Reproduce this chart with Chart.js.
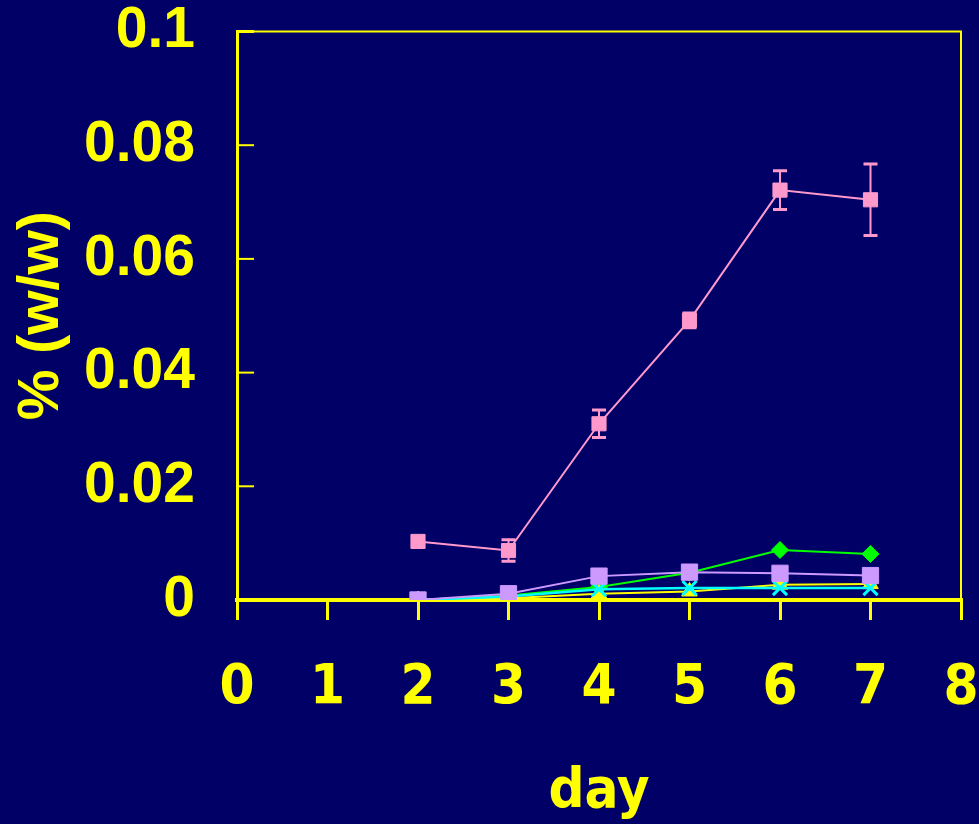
<!DOCTYPE html>
<html>
<head>
<meta charset="utf-8">
<script src="https://cdn.jsdelivr.net/npm/chart.js@4.4.1/dist/chart.umd.min.js"></script>
<style>
  html, body { margin: 0; padding: 0; background: #000066; }
  #wrap { width: 979px; height: 824px; position: relative; }
</style>
</head>
<body>
<div id="wrap"><canvas id="c" width="979" height="824"></canvas></div>
<script>
// ---- data ----
const days = [2, 3, 4, 5, 6, 7];
const pinkValues     = [0.0103, 0.0087, 0.0310, 0.0492, 0.0721, 0.0704];
const pinkErrors     = [0, 0.0019, 0.0024, 0.0013, 0.0034, 0.0063];
const lavenderValues = [0, 0.0011, 0.0042, 0.0049, 0.0047, 0.0043];
const greenValues    = [0, 0.0008, 0.0023, 0.0048, 0.0088, 0.0081];
const cyanValues     = [0, 0.0006, 0.0019, 0.0021, 0.0021, 0.0021];
const yellowValues   = [0, 0.0003, 0.0011, 0.0015, 0.0027, 0.0028];
const xTickLabels = ['0', '1', '2', '3', '4', '5', '6', '7', '8'];
const yTickLabels = ['0', '0.02', '0.04', '0.06', '0.08', '0.1'];
const xTitle = 'day';
const yTitle = '% (w/w)';

const BG = '#000066';
const YEL = '#FFFF00';
const NARROW = "'Liberation Sans Narrow', 'Arial Narrow', 'DejaVu Sans Condensed', 'Liberation Sans', sans-serif";
const SANS = "'Liberation Sans', Arial, sans-serif";

const toPts = vals => days.map((d, i) => ({ x: d, y: vals[i] }));

const bgPlugin = {
  id: 'bg',
  beforeDraw(chart) {
    const ctx = chart.ctx;
    ctx.save();
    ctx.fillStyle = BG;
    ctx.fillRect(0, 0, chart.width, chart.height);
    ctx.restore();
  }
};

const framePlugin = {
  id: 'frame',
  afterDraw(chart) {
    const { ctx, chartArea: a } = chart;
    const ys = chart.scales.y;
    ctx.save();
    ctx.strokeStyle = YEL;
    ctx.lineWidth = 2;
    ctx.beginPath();
    ctx.moveTo(a.left, a.top);
    ctx.lineTo(a.right, a.top);
    ctx.lineTo(a.right, a.bottom + 20);
    ctx.stroke();
    ys.ticks.forEach((t, i) => {
      const py = ys.getPixelForValue(t.value);
      ctx.lineWidth = i === ys.ticks.length - 1 ? 3 : 2;
      ctx.beginPath();
      ctx.moveTo(a.left, py);
      ctx.lineTo(a.left + 17, py);
      ctx.stroke();
    });
    ctx.restore();
  }
};

const errorBarPlugin = {
  id: 'errbars',
  afterDatasetsDraw(chart) {
    const { ctx } = chart;
    const xs = chart.scales.x, ys = chart.scales.y;
    ctx.save();
    ctx.strokeStyle = '#FF99CC';
    days.forEach((d, i) => {
      const e = pinkErrors[i];
      if (!e) return;
      const px = xs.getPixelForValue(d);
      const yTop = ys.getPixelForValue(pinkValues[i] + e);
      const yBot = ys.getPixelForValue(pinkValues[i] - e);
      ctx.lineWidth = 2;
      ctx.beginPath();
      ctx.moveTo(px, yTop);
      ctx.lineTo(px, yBot);
      ctx.stroke();
      ctx.lineWidth = 3;
      ctx.beginPath();
      ctx.moveTo(px - 7, yTop); ctx.lineTo(px + 7, yTop);
      ctx.moveTo(px - 7, yBot); ctx.lineTo(px + 7, yBot);
      ctx.stroke();
    });
    ctx.restore();
  }
};

new Chart(document.getElementById('c'), {
  type: 'line',
  data: {
    datasets: [
      { data: toPts(pinkValues), borderColor: '#FF99CC', backgroundColor: '#FF99CC',
        borderWidth: 2, pointStyle: 'rect', pointRadius: 10, pointBorderWidth: 1 },
      { data: toPts(lavenderValues), borderColor: '#CC99FF', backgroundColor: '#CC99FF',
        borderWidth: 2, pointStyle: 'rect', pointRadius: 11.5, pointBorderWidth: 1 },
      { data: toPts(cyanValues), borderColor: '#00FFFF', backgroundColor: '#00FFFF',
        borderWidth: 2.5, pointStyle: 'crossRot', pointRadius: 10, pointBorderWidth: 3 },
      { data: toPts(yellowValues), borderColor: YEL, backgroundColor: YEL,
        borderWidth: 2, pointStyle: 'triangle', pointRadius: 9, pointBorderWidth: 1 },
      { data: toPts(greenValues), borderColor: '#00FF00', backgroundColor: '#00FF00',
        borderWidth: 2, pointStyle: 'rectRot', pointRadius: 8.5, pointBorderWidth: 1 }
    ]
  },
  options: {
    responsive: false,
    animation: false,
    events: [],
    layout: { padding: { top: 31.5, right: 18, left: 0, bottom: 0 } },
    plugins: { legend: { display: false }, tooltip: { enabled: false } },
    elements: { line: { tension: 0 } },
    scales: {
      x: {
        type: 'linear', min: 0, max: 8,
        ticks: {
          stepSize: 1, color: YEL, padding: 35,
          font: { family: NARROW, size: 56, weight: 'bold' },
          callback: (v) => xTickLabels[v] ?? ''
        },
        grid: { drawOnChartArea: false, drawTicks: true, tickLength: 20, color: YEL, lineWidth: 3 },
        border: { display: true, color: YEL, width: 4 },
        title: {
          display: true, text: xTitle, color: YEL,
          font: { family: NARROW, size: 56, weight: 'bold', lineHeight: 1 },
          padding: { top: 0, bottom: 4 }
        },
        afterFit: (s) => { s.height = 224; s.paddingLeft = 0; s.paddingRight = 0; s.paddingTop = 0; s.paddingBottom = 0; }
      },
      y: {
        type: 'linear', min: 0, max: 0.1,
        ticks: {
          stepSize: 0.02, color: YEL, padding: 42,
          font: { family: SANS, size: 57, weight: 'bold' },
          callback: (v) => {
            const i = Math.round(v / 0.02);
            return yTickLabels[i] ?? '';
          }
        },
        grid: { display: false, drawTicks: false },
        border: { display: true, color: YEL, width: 3 },
        title: {
          display: true, text: yTitle, color: YEL,
          font: { family: SANS, size: 57, weight: 'bold', lineHeight: 1.2 },
          padding: { top: 8, bottom: 0 }
        },
        afterFit: (s) => { s.width = 237; s.paddingTop = 0; s.paddingBottom = 0; s.paddingLeft = 0; s.paddingRight = 0; }
      }
    }
  },
  plugins: [bgPlugin, errorBarPlugin, framePlugin]
});
</script>
</body>
</html>
